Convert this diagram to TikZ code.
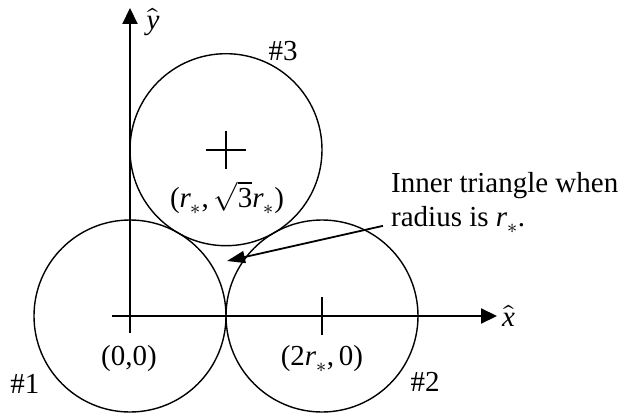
\documentclass[tikz,border=0pt]{standalone}
\usepackage{fontspec}
\usepackage{unicode-math}
\setmainfont{Liberation Serif}
\setmathfont{Latin Modern Math}
\setmathfont[range=it->up]{Liberation Serif Italic}
\setmathfont[range={up/num,"0028,"0029,"002C}]{Liberation Serif}
\usetikzlibrary{arrows.meta,positioning}

\begin{document}
\begin{tikzpicture}[
  x=1pt, y=1pt,
  disc/.style={
    draw, circle, line width=1.4pt, minimum size=192pt, inner sep=0pt
  },
  axis/.style={line width=2.1pt, -{Triangle[length=16pt, width=15pt]}},
  tick/.style={line width=1.6pt},
  lbl/.style={font=\fontsize{29}{34}\selectfont, inner sep=0pt},
  pointer/.style={line width=1.8pt, -{Triangle[length=18pt, width=12pt]}}
]
\useasboundingbox (-130,-97) rectangle (498,316);

% the three circles of radius r_*
\node[disc] (c1) at (0,0) {};
\node[disc] (c2) at (192,0) {};
\node[disc] (c3) at (96,166.3) {};

% axes
\coordinate (xstart) at (-18,0);
\coordinate (xend) at (367,0);
\coordinate (ystart) at (0,-17);
\coordinate (yend) at (0,308);
\draw[axis] (xstart) -- (xend);
\draw[axis] (ystart) -- (yend);
\node[lbl, right=5pt of xend] (xlabel) {$\hat{x}$};
\node[lbl] (ylabel) at (23,294) {$\hat{y}$};

% centre marks
\draw[tick] ([yshift=-19]c2.center) -- ([yshift=19]c2.center);
\draw[tick] ([yshift=-19]c3.center) -- ([yshift=19]c3.center);
\draw[tick] ([xshift=-20]c3.center) -- ([xshift=20]c3.center);

% labels
\node[lbl] (o1) at (-1,-43) {(0,0)};
\node[lbl] (o2) at (192,-43) {$(2r_*,0)$};
\node[lbl] (o3) at (97,118) {$(r_*,\sqrt{3}r_*)$};
\node[lbl] (n1) at (-105,-68) {\#1};
\node[lbl] (n2) at (295,-66) {\#2};
\node[lbl] (n3) at (153,265) {\#3};

% inner triangle note
\coordinate (gap) at (97,55);
\node[lbl, align=left, anchor=west] (note) at (261,113)
  {Inner triangle when\\radius is $r_*$.};
\draw[pointer] ([shift={(-8,8)}]note.south west) -- (gap);
\end{tikzpicture}
\end{document}
